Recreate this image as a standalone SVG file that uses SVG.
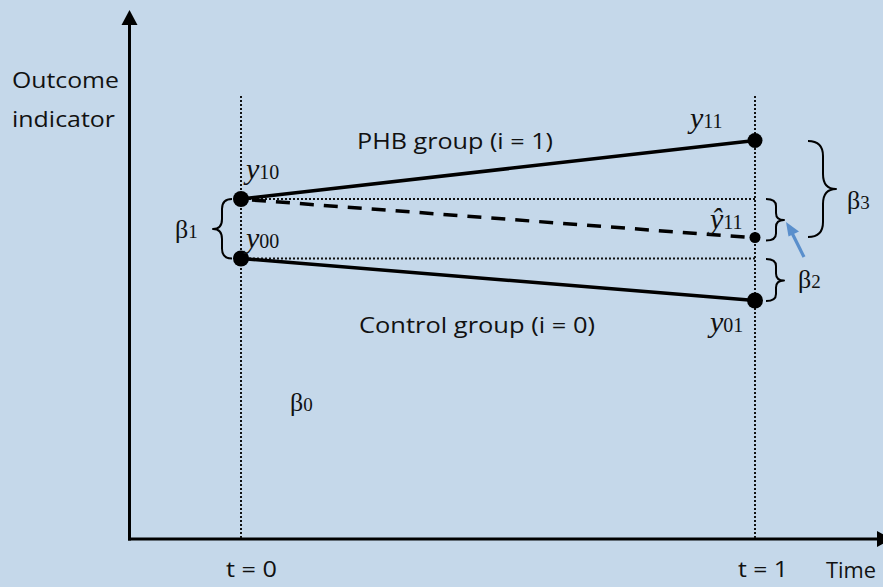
<svg xmlns="http://www.w3.org/2000/svg" width="883" height="587" viewBox="0 0 883 587">
<style>
.lbl{font-family:"Open Sans","Liberation Sans",sans-serif;font-size:22px;fill:#111}
.math{font-family:"Liberation Serif","DejaVu Serif",serif;font-size:30px;fill:#111}
.beta{font-family:"Liberation Serif","DejaVu Serif",serif;font-size:26px;fill:#111}
.sub{font-size:20px;font-style:normal}
.bsub{font-size:19px}
.it{font-style:italic}
.dot{stroke:#111;stroke-width:2;stroke-dasharray:2 2;fill:none}
.solid{stroke:#000;stroke-width:3.5;fill:none}
.brace{stroke:#000;stroke-width:2;fill:none;stroke-linejoin:round}
.axis{stroke:#000;stroke-width:3;fill:none}
</style>
<rect width="883" height="587" fill="#c5d8ea"/>
<g id="axes">
<line class="axis" x1="129.5" y1="540.5" x2="129.5" y2="22"/>
<polygon points="129.5,10 121.5,25 137.5,25" fill="#000"/>
<line class="axis" x1="128" y1="539" x2="880" y2="539"/>
<polygon points="877,531 892,539 877,547" fill="#000"/>
</g>
<g id="guides">
<line class="dot" x1="241" y1="96" x2="241" y2="538"/>
<line class="dot" x1="755" y1="96" x2="755" y2="538"/>
<line class="dot" x1="241" y1="199" x2="755" y2="199"/>
<line class="dot" x1="241" y1="258.5" x2="755" y2="258.5"/>
</g>
<g id="connectors">
<line class="solid" x1="241" y1="199" x2="755" y2="140.5"/>
<line class="solid" x1="241" y1="258.5" x2="755" y2="300.5"/>
<line class="solid" x1="252" y1="200" x2="750" y2="237.5" stroke-dasharray="14 10"/>
<path class="brace" d="M232,199 Q222,199 222,209 L222,219 Q222,229 213,229 Q222,229 222,239 L222,248.5 Q222,258.5 232,258.5"/>
<path class="brace" d="M808,141 Q823,141 823,156 L823,174 Q823,189 836,189 Q823,189 823,204 L823,222 Q823,237 808,237"/>
<path class="brace" d="M766,199 Q776,199 776,206 L776,213 Q776,220 784,220 Q776,220 776,227 L776,233.5 Q776,240.5 766,240.5"/>
<path class="brace" d="M766,259 Q776,259 776,266 L776,273.5 Q776,280.5 784,280.5 Q776,280.5 776,287.5 L776,294 Q776,301 766,301"/>
<line x1="804" y1="257" x2="792" y2="233" stroke="#5a8fcc" stroke-width="3.2"/>
<polygon points="786,222 799,231.5 788.5,236.5" fill="#5a8fcc"/>
</g>
<g id="node-y10"><circle cx="241" cy="199" r="8" fill="#000"/></g>
<g id="node-y00"><circle cx="241" cy="258.5" r="8" fill="#000"/></g>
<g id="node-y11"><circle cx="755" cy="140.5" r="7.5" fill="#000"/></g>
<g id="node-yhat11"><circle cx="755" cy="237.5" r="5.5" fill="#000"/></g>
<g id="node-y01"><circle cx="755" cy="300.5" r="8" fill="#000"/></g>
<g id="labels">
<text class="lbl" x="12" y="88" textLength="107" lengthAdjust="spacingAndGlyphs">Outcome</text>
<text class="lbl" x="12" y="127" textLength="103" lengthAdjust="spacingAndGlyphs">indicator</text>
<text class="lbl" x="357" y="149" textLength="196" lengthAdjust="spacingAndGlyphs">PHB group (i = 1)</text>
<text class="lbl" x="359" y="333" textLength="236" lengthAdjust="spacingAndGlyphs">Control group (i = 0)</text>
<text class="lbl" x="226" y="577" textLength="51" lengthAdjust="spacingAndGlyphs">t = 0</text>
<text class="lbl" x="738" y="577" textLength="50" lengthAdjust="spacingAndGlyphs">t = 1</text>
<text class="lbl" x="826" y="578" textLength="50" lengthAdjust="spacingAndGlyphs">Time</text>
<text class="math" x="246" y="179"><tspan class="it">y</tspan><tspan class="sub">10</tspan></text>
<text class="math" x="246" y="248"><tspan class="it">y</tspan><tspan class="sub">00</tspan></text>
<text class="math" x="690" y="128"><tspan class="it">y</tspan><tspan class="sub">11</tspan></text>
<text class="math" x="710" y="229"><tspan class="it">ŷ</tspan><tspan class="sub">11</tspan></text>
<text class="math" x="710" y="332"><tspan class="it">y</tspan><tspan class="sub">01</tspan></text>
<text class="beta" x="175" y="238">β<tspan class="bsub">1</tspan></text>
<text class="beta" x="290" y="411">β<tspan class="bsub">0</tspan></text>
<text class="beta" x="847" y="209">β<tspan class="bsub">3</tspan></text>
<text class="beta" x="798" y="288">β<tspan class="bsub">2</tspan></text>
</g>
</svg>
